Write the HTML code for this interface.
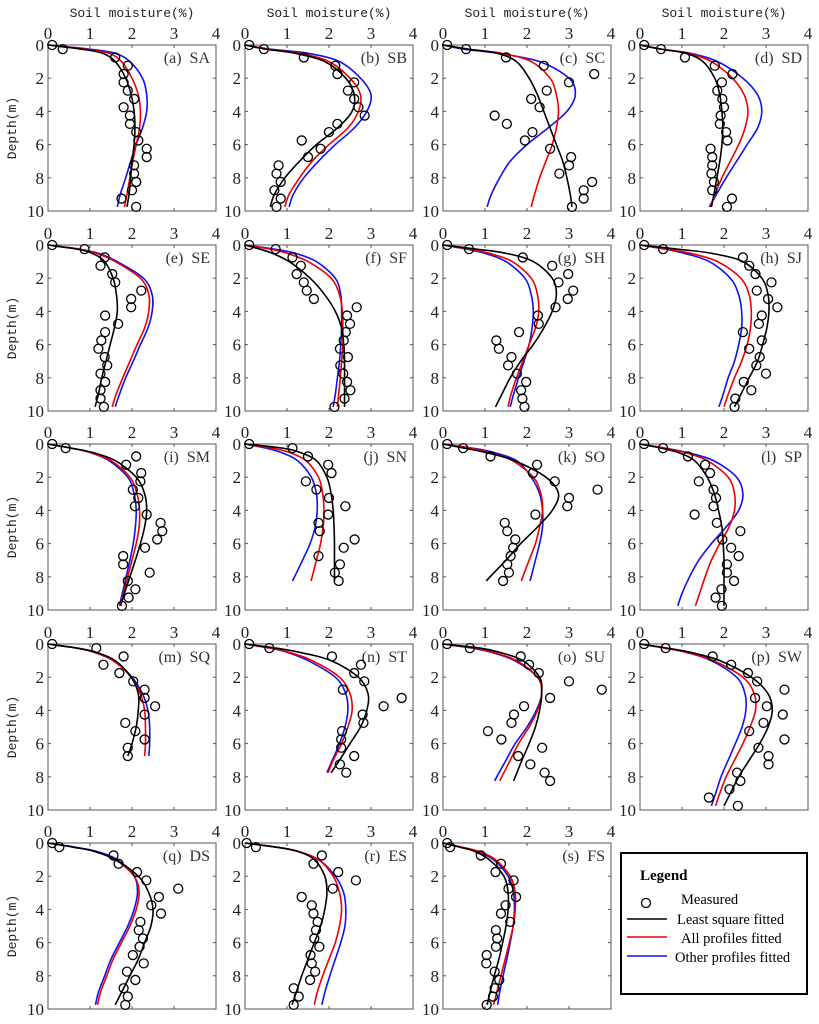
<!DOCTYPE html>
<html><head><meta charset="utf-8"><style>
html,body{margin:0;padding:0;background:#fff;}
svg{display:block;}
text{font-family:"Liberation Serif",serif;}
</style></head><body>
<svg id="chart" width="819" height="1024" viewBox="0 0 819 1024" xmlns="http://www.w3.org/2000/svg">
<g id="root"></g>
<g>
<rect x="621" y="853" width="186" height="141" fill="#fff" stroke="#000" stroke-width="2"/>
<text x="640" y="880" font-size="15" font-weight="bold">Legend</text>
<circle cx="646" cy="903" r="4.5" fill="none" stroke="#000" stroke-width="1.3"/>
<text x="681" y="904" font-size="14.5">Measured</text>
<line x1="627" y1="919" x2="667" y2="919" stroke="#000" stroke-width="1.6"/>
<text x="677" y="924" font-size="14.5">Least square fitted</text>
<line x1="627" y1="937" x2="667" y2="937" stroke="#e00" stroke-width="1.6"/>
<text x="681" y="943" font-size="14.5">All profiles fitted</text>
<line x1="627" y1="956" x2="667" y2="956" stroke="#11e" stroke-width="1.6"/>
<text x="675" y="962" font-size="14.5">Other profiles fitted</text>
</g>
</svg>
<script>
const panelLabels=["(a) SA","(b) SB","(c) SC","(d) SD","(e) SE","(f) SF","(g) SH","(h) SJ","(i) SM","(j) SN","(k) SO","(l) SP","(m) SQ","(n) ST","(o) SU","(p) SW","(q) DS","(r) ES","(s) FS"];
const pointDepths=[0,0.25,0.75,1.25,1.75,2.25,2.75,3.25,3.75,4.25,4.75,5.25,5.75,6.25,6.75,7.25,7.75,8.25,8.75,9.25,9.75];
const curveDepths=[0,0.25,0.5,1,2,3,4,5,6,7,8,9];
const curveEnd=[9.75,9.75,9.75,9.75,9.75,9.75,9.75,9.75,9.75,8.25,8.25,9.75,6.75,7.75,8.25,9.75,9.75,9.75,9.75];
const xTicks=[0,1,2,3,4];
const yTicks=[0,2,4,6,8,10];
const measured=[
[0.1,0.35,1.6,1.9,1.8,1.8,1.9,2.05,1.8,1.95,1.95,2.1,2.15,2.35,2.35,2.05,2.05,2.1,2.0,1.75,2.1],
[0.1,0.45,1.4,2.15,2.2,2.6,2.45,2.6,2.7,2.85,2.2,2.0,1.35,1.8,1.5,0.8,0.75,0.85,0.7,0.85,0.75],
[0.1,0.55,1.5,2.4,3.6,3.0,2.47,2.1,2.3,1.23,1.52,2.13,1.95,2.55,3.05,3.0,2.77,3.55,3.35,3.35,3.07],
[0.1,0.5,1.07,1.78,2.2,1.95,1.84,1.96,2.0,1.92,1.9,2.05,2.08,1.68,1.72,1.72,1.7,1.76,1.72,2.19,2.07],
[0.1,0.87,1.35,1.25,1.53,1.6,2.22,1.98,1.98,1.36,1.67,1.36,1.27,1.2,1.35,1.41,1.25,1.36,1.25,1.25,1.33],
[0.1,0.73,1.13,1.33,1.23,1.4,1.47,1.64,2.66,2.43,2.5,2.4,2.35,2.26,2.45,2.27,2.34,2.43,2.51,2.37,2.13],
[0.1,0.62,1.9,2.6,2.98,2.75,3.1,2.97,2.68,2.26,2.28,1.81,1.27,1.33,1.63,1.55,1.76,1.98,1.86,1.89,1.94],
[0.1,0.55,2.45,2.6,2.75,3.13,2.78,3.05,3.27,2.9,2.83,2.45,2.9,2.6,2.85,2.77,3.0,2.47,2.65,2.27,2.25],
[0.1,0.42,2.1,1.86,2.22,2.2,2.02,2.15,2.07,2.35,2.68,2.72,2.6,2.31,1.79,1.79,2.42,1.9,2.08,1.92,1.76],
[0.1,1.13,1.5,1.98,2.06,1.45,1.7,2.0,2.39,1.98,1.75,1.78,2.61,2.35,1.75,2.26,2.14,2.23],
[0.1,0.48,1.13,2.24,2.14,2.66,3.68,3.0,2.96,2.2,1.47,1.53,1.72,1.67,1.61,1.53,1.57,1.43],
[0.1,0.55,1.14,1.55,1.67,1.4,1.75,1.81,1.75,1.3,1.83,2.39,1.96,2.17,2.35,2.07,2.07,2.24,1.94,1.8,1.95],
[0.1,1.15,1.8,1.32,1.7,2.03,2.3,2.3,2.55,2.3,1.84,2.08,2.3,1.9,1.9],
[0.1,0.58,2.07,2.76,2.6,2.84,2.33,3.73,3.3,2.8,2.82,2.31,2.29,2.29,2.6,2.26,2.41],
[0.1,0.64,1.85,2.05,2.28,3.0,3.78,2.55,1.93,1.69,1.63,1.07,1.39,2.36,1.79,2.08,2.42,2.55],
[0.1,0.61,1.73,2.17,2.57,2.79,3.44,2.74,3.02,3.4,2.94,2.6,3.44,2.82,3.06,3.06,2.31,2.39,2.13,1.64,2.33],
[0.1,0.27,1.56,1.68,2.12,2.34,3.1,2.64,2.46,2.69,2.2,2.16,2.26,2.18,2.02,2.28,1.88,2.08,1.8,1.9,1.84],
[0.04,0.26,1.83,1.63,2.22,2.64,2.09,1.35,1.59,1.63,1.73,1.69,1.65,1.77,1.56,1.59,1.67,1.55,1.16,1.28,1.16],
[0.1,0.17,0.9,1.38,1.25,1.68,1.56,1.74,1.49,1.38,1.6,1.26,1.29,1.26,1.04,1.03,1.23,1.34,1.23,1.19,1.04]
];
const leastSquare=[
[0,0.8,1.3,1.6,1.85,1.98,2.05,2.07,2.05,2.0,1.97,1.93,1.88],
[0,0.5,1.2,1.9,2.4,2.6,2.55,2.2,1.7,1.3,0.95,0.7,0.6],
[0,0.6,1.3,1.75,2.05,2.25,2.4,2.55,2.7,2.85,2.95,3.03,3.07],
[0,0.5,1.1,1.5,1.78,1.9,1.95,1.97,1.95,1.9,1.83,1.76,1.7],
[0,0.7,1.05,1.35,1.55,1.63,1.65,1.58,1.48,1.38,1.28,1.2,1.12],
[0,0.35,0.65,1.05,1.55,1.9,2.15,2.3,2.35,2.37,2.37,2.37,2.37],
[0,0.8,1.5,2.15,2.6,2.7,2.6,2.4,2.15,1.85,1.6,1.4,1.25],
[0,0.9,1.7,2.45,2.9,3.05,3.07,3.02,2.92,2.8,2.6,2.4,2.25],
[0,0.55,1.05,1.6,2.1,2.3,2.35,2.3,2.2,2.08,1.95,1.82,1.73],
[0,0.9,1.3,1.7,1.95,2.05,2.1,2.12,2.13,2.13,2.13,2.13],
[0,0.5,1.0,1.7,2.45,2.75,2.6,2.25,1.85,1.5,1.12,1.03],
[0,0.5,0.9,1.3,1.6,1.77,1.87,1.95,1.98,2.0,2.0,2.0,2.0],
[0,0.7,1.15,1.6,1.98,2.15,2.15,2.1,2.0,1.9],
[0,0.75,1.3,2.05,2.7,2.93,2.9,2.75,2.5,2.25,2.05],
[0,0.9,1.35,1.9,2.3,2.35,2.3,2.2,2.05,1.88,1.72,1.68],
[0,0.65,1.2,1.9,2.65,3.05,3.15,3.05,2.85,2.6,2.35,2.15,2.0],
[0,0.6,1.1,1.6,2.15,2.4,2.5,2.45,2.3,2.15,1.95,1.75,1.6],
[0,0.75,1.25,1.65,1.9,1.95,1.9,1.8,1.65,1.5,1.35,1.22,1.12],
[0,0.4,0.75,1.1,1.45,1.55,1.55,1.5,1.42,1.33,1.22,1.12,1.05]
];
const allProfiles=[
[0,0.9,1.45,1.75,2.0,2.15,2.2,2.18,2.1,2.02,1.95,1.88,1.82],
[0,0.55,1.3,2.0,2.5,2.75,2.7,2.45,2.0,1.6,1.3,1.05,0.95],
[0,0.6,1.4,2.1,2.55,2.7,2.75,2.7,2.6,2.45,2.3,2.18,2.1],
[0,0.5,1.15,1.7,2.2,2.48,2.57,2.5,2.35,2.15,1.95,1.78,1.68],
[0,0.75,1.15,1.6,2.2,2.4,2.4,2.3,2.12,1.95,1.78,1.62,1.53],
[0,0.6,1.0,1.5,2.05,2.25,2.32,2.33,2.33,2.3,2.27,2.23,2.2],
[0,0.6,1.1,1.65,2.1,2.25,2.28,2.2,2.05,1.9,1.75,1.62,1.55],
[0,0.65,1.2,1.85,2.4,2.6,2.65,2.63,2.55,2.42,2.25,2.1,2.0],
[0,0.55,1.0,1.5,1.95,2.12,2.18,2.17,2.1,2.0,1.9,1.8,1.72],
[0,0.65,1.05,1.45,1.75,1.85,1.88,1.86,1.8,1.7,1.6,1.57],
[0,0.65,1.1,1.65,2.15,2.33,2.37,2.3,2.2,2.05,1.9,1.87],
[0,0.6,1.05,1.6,2.1,2.25,2.25,2.12,1.9,1.7,1.55,1.42,1.32],
[0,0.7,1.1,1.55,1.98,2.2,2.3,2.32,2.32,2.3],
[0,0.6,1.05,1.6,2.25,2.5,2.55,2.45,2.3,2.1,1.98],
[0,0.75,1.2,1.75,2.25,2.35,2.25,2.05,1.8,1.6,1.4,1.35],
[0,0.6,1.1,1.75,2.45,2.72,2.75,2.62,2.45,2.25,2.05,1.9,1.8],
[0,0.6,1.1,1.6,2.05,2.17,2.1,1.95,1.75,1.55,1.4,1.25,1.18],
[0,0.75,1.25,1.75,2.1,2.25,2.3,2.25,2.15,2.0,1.85,1.72,1.65],
[0,0.45,0.85,1.25,1.6,1.72,1.72,1.67,1.58,1.48,1.38,1.28,1.2]
];
const otherProfiles=[
[0,1.0,1.6,1.95,2.25,2.35,2.35,2.25,2.1,1.97,1.85,1.72,1.65],
[0,0.6,1.5,2.25,2.75,3.0,2.9,2.6,2.15,1.75,1.4,1.15,1.05],
[0,0.5,1.3,2.3,3.0,3.15,2.95,2.5,2.0,1.6,1.35,1.15,1.05],
[0,0.5,1.2,1.85,2.45,2.8,2.9,2.8,2.55,2.3,2.05,1.82,1.65],
[0,0.75,1.2,1.65,2.27,2.48,2.48,2.38,2.2,2.03,1.85,1.7,1.6],
[0,0.7,1.2,1.7,2.15,2.28,2.3,2.3,2.28,2.25,2.2,2.15,2.1],
[0,0.55,1.0,1.5,1.95,2.1,2.15,2.12,2.05,1.93,1.8,1.68,1.6],
[0,0.6,1.05,1.65,2.15,2.35,2.42,2.42,2.35,2.25,2.1,1.98,1.88],
[0,0.55,0.98,1.45,1.9,2.05,2.1,2.08,2.03,1.95,1.86,1.77,1.7],
[0,0.5,0.85,1.25,1.58,1.7,1.72,1.67,1.55,1.37,1.18,1.13],
[0,0.7,1.2,1.75,2.1,2.3,2.37,2.37,2.3,2.2,2.1,2.07],
[0,0.6,1.1,1.75,2.3,2.45,2.35,2.05,1.7,1.4,1.18,1.0,0.9],
[0,0.7,1.1,1.55,2.0,2.25,2.38,2.42,2.42,2.4],
[0,0.6,1.0,1.5,2.15,2.4,2.45,2.38,2.25,2.08,1.95],
[0,0.7,1.15,1.7,2.25,2.35,2.22,2.0,1.72,1.5,1.28,1.23],
[0,0.6,1.1,1.7,2.3,2.5,2.52,2.43,2.27,2.1,1.93,1.8,1.7],
[0,0.65,1.15,1.65,2.05,2.13,2.05,1.9,1.7,1.5,1.35,1.2,1.13],
[0,0.75,1.25,1.75,2.15,2.35,2.4,2.38,2.28,2.15,2.02,1.9,1.83],
[0,0.4,0.8,1.2,1.55,1.68,1.7,1.67,1.6,1.52,1.43,1.35,1.3]
];
const colLeft=[48,245,443,640], rowTop=[45,245,444,644,843];
const PW=168, PH=166, NS="http://www.w3.org/2000/svg";
const root=document.getElementById('root');
function mk(tag,attrs,parent){const e=document.createElementNS(NS,tag);for(const k in attrs)e.setAttribute(k,attrs[k]);parent.appendChild(e);return e;}
function spline(pts){let d="M"+pts[0][0].toFixed(2)+","+pts[0][1].toFixed(2);
 for(let i=0;i<pts.length-1;i++){const p0=pts[Math.max(0,i-1)],p1=pts[i],p2=pts[i+1],p3=pts[Math.min(pts.length-1,i+2)];
  const c1=[p1[0]+(p2[0]-p0[0])/6,p1[1]+(p2[1]-p0[1])/6],c2=[p2[0]-(p3[0]-p1[0])/6,p2[1]-(p3[1]-p1[1])/6];
  d+=" C"+c1[0].toFixed(2)+","+c1[1].toFixed(2)+" "+c2[0].toFixed(2)+","+c2[1].toFixed(2)+" "+p2[0].toFixed(2)+","+p2[1].toFixed(2);}
 return d;}
const monoStyle='font-family:"Liberation Mono",monospace;font-size:13px;';
for(let c=0;c<4;c++){
 const t=mk('text',{x:colLeft[c]+PW/2,y:17,'text-anchor':'middle',style:monoStyle,fill:'#222'},root);
 
 
 t.textContent='Soil moisture(%)';
}
for(let r=0;r<5;r++){
 const cy=rowTop[r]+PH/2;
 const t=mk('text',{x:0,y:0,'text-anchor':'middle',style:monoStyle,fill:'#222',transform:`translate(16,${cy}) rotate(-90)`},root);
 
 
 t.textContent='Depth(m)';
}
for(let p=0;p<19;p++){
 const L=colLeft[p%4], T=rowTop[Math.floor(p/4)];
 const xs=v=>L+v/4*PW, ys=d=>T+d/10*PH;
 const g=mk('g',{},root);
 
 
 const box=mk('rect',{x:L,y:T,width:PW,height:PH,fill:'none',stroke:'#555','stroke-width':1},g);
 
 
 xTicks.forEach(v=>{
  if(v>0&&v<4){mk('line',{x1:xs(v),y1:T,x2:xs(v),y2:T+3,stroke:'#555'},g);mk('line',{x1:xs(v),y1:T+PH,x2:xs(v),y2:T+PH-3,stroke:'#555'},g);}
  const t=mk('text',{x:xs(v),y:T-6,'font-size':17,'text-anchor':'middle',fill:'#222'},g);
  
  
  t.textContent=v;
 });
 yTicks.forEach(v=>{
  if(v>0&&v<10){mk('line',{x1:L,y1:ys(v),x2:L+3,y2:ys(v),stroke:'#555'},g);mk('line',{x1:L+PW,y1:ys(v),x2:L+PW-3,y2:ys(v),stroke:'#555'},g);}
  const t=mk('text',{x:L-4,y:ys(v)+6,'font-size':17,'text-anchor':'end',fill:'#222'},g);
  
  
  t.textContent=v;
 });
 const lab=mk('text',{x:L+PW-6,y:T+18,'font-size':16,'text-anchor':'end',fill:'#333','word-spacing':'4'},g);
 
 
 lab.textContent=panelLabels[p];
 const series=[[otherProfiles[p],'#11e','other-profiles-curve'],[allProfiles[p],'#e00','all-profiles-curve'],[leastSquare[p],'#000','least-square-curve']];
 series.forEach(([vals,col,nm])=>{
  const n=vals.length;
  const depths=curveDepths.slice(0,n-1).concat([curveEnd[p]]);
  const pts=vals.map((v,i)=>[xs(v),ys(depths[i])]);
  const path=mk('path',{d:spline(pts),fill:'none',stroke:col,'stroke-width':1.6},g);
  
  
 });
 measured[p].forEach((v,i)=>{
  const c=mk('circle',{cx:xs(v),cy:ys(pointDepths[i]),r:4.5,fill:'none',stroke:'#000','stroke-width':1.3},g);
  
  
 });
}
</script>
</body></html>
